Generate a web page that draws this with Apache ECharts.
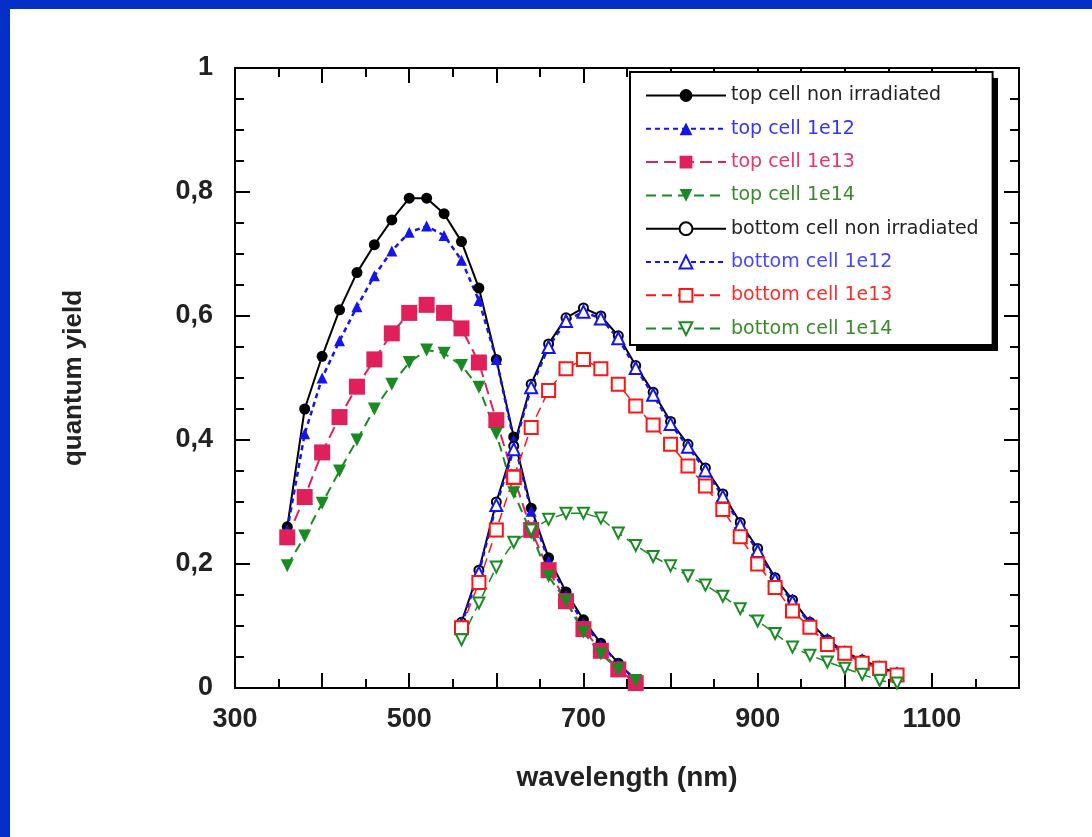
<!DOCTYPE html>
<html>
<head>
<meta charset="utf-8">
<script src="https://cdn.jsdelivr.net/npm/echarts@6/dist/echarts.min.js"></script>
<style>
html,body{margin:0;padding:0;background:#fff;}
#chart{width:1092px;height:837px;}
</style>
</head>
<body>
<div id="chart"></div>
<script>
// ---- data ----
const wlTop = [360,380,400,420,440,460,480,500,520,540,560,580,600,620,640,660,680,700,720,740,760];
const topNonIrr = [0.26,0.45,0.535,0.61,0.67,0.715,0.755,0.79,0.79,0.765,0.72,0.645,0.53,0.405,0.29,0.21,0.155,0.11,0.072,0.04,0.013];
const top1e12   = [0.255,0.41,0.50,0.56,0.615,0.665,0.705,0.735,0.745,0.73,0.69,0.625,0.53,0.40,0.285,0.205,0.15,0.105,0.07,0.04,0.012];
const top1e13   = [0.243,0.308,0.38,0.437,0.486,0.53,0.572,0.605,0.618,0.605,0.58,0.525,0.432,0.34,0.255,0.19,0.14,0.095,0.06,0.03,0.008];
const top1e14   = [0.197,0.245,0.298,0.35,0.40,0.45,0.49,0.525,0.545,0.54,0.52,0.485,0.41,0.315,0.25,0.18,0.14,0.09,0.055,0.03,0.012];

const wlBottom = [560,580,600,620,640,660,680,700,720,740,760,780,800,820,840,860,880,900,920,940,960,980,1000,1020,1040,1060];
const botNonIrr = [0.106,0.19,0.30,0.39,0.49,0.555,0.597,0.613,0.60,0.568,0.52,0.477,0.43,0.393,0.355,0.313,0.267,0.225,0.178,0.142,0.106,0.078,0.058,0.045,0.034,0.024];
const bot1e12   = [0.102,0.186,0.295,0.385,0.485,0.55,0.592,0.607,0.596,0.564,0.516,0.473,0.426,0.389,0.351,0.309,0.263,0.221,0.175,0.139,0.104,0.076,0.056,0.043,0.032,0.022];
const bot1e13   = [0.097,0.17,0.255,0.34,0.42,0.48,0.515,0.53,0.515,0.49,0.455,0.424,0.393,0.358,0.326,0.288,0.244,0.2,0.162,0.124,0.098,0.07,0.056,0.04,0.032,0.021];
const bot1e14   = [0.078,0.137,0.195,0.235,0.255,0.272,0.282,0.282,0.274,0.25,0.23,0.212,0.197,0.181,0.166,0.148,0.128,0.108,0.088,0.066,0.053,0.042,0.032,0.022,0.012,0.008];

const seriesNames = ['top cell non irradiated','top cell 1e12','top cell 1e13','top cell 1e14',
                     'bottom cell non irradiated','bottom cell 1e12','bottom cell 1e13','bottom cell 1e14'];
const yLabels = {0:'0',0.2:'0,2',0.4:'0,4',0.6:'0,6',0.8:'0,8',1:'1'};
const xLabelValues = [300,500,700,900,1100];

// ---- styles ----
const BLACK='#000000', BLUE='#1414f0', PINK='#e0205a', GREEN='#1a8a22', RED='#ff1414';
const legendTextColors = ['#222222','#3434ff','#e8356a','#3a8a2a','#222222','#4646ff','#ff2a2a','#3a8a2a'];

function pairs(xs, ys){ return xs.map((x,i)=>[x, ys[i]]); }

const specs = [
  {x:wlTop, y:topNonIrr, color:BLACK, symbol:'circle', size:11, rot:0, dash:'solid', w:2},
  {x:wlTop, y:top1e12, color:BLUE, symbol:'triangle', size:11, rot:0, dash:[5,4], w:2.5},
  {x:wlTop, y:top1e13, color:PINK, symbol:'rect', size:16, rot:0, dash:[12,6], w:2},
  {x:wlTop, y:top1e14, color:GREEN, symbol:'triangle', size:13, rot:180, dash:[10,6], w:2},
  {x:wlBottom, y:botNonIrr, color:BLACK, symbol:'emptyCircle', size:9, rot:0, dash:'solid', w:2},
  {x:wlBottom, y:bot1e12, color:BLUE, symbol:'emptyTriangle', size:12, rot:0, dash:[5,4], w:2.5},
  {x:wlBottom, y:bot1e13, color:RED, symbol:'emptyRect', size:13, rot:0, dash:[10,6], w:1.5},
  {x:wlBottom, y:bot1e14, color:GREEN, symbol:'emptyTriangle', size:11, rot:180, dash:[10,6], w:1.5}
];

const series = specs.map((s,i)=>({
  name: seriesNames[i],
  type:'line',
  xAxisIndex:0, yAxisIndex:0,
  data: pairs(s.x, s.y),
  symbol: s.symbol,
  symbolSize: s.size,
  symbolRotate: s.rot,
  showAllSymbol:true,
  animation:false,
  lineStyle:{color:s.color, width:s.w, type:s.dash},
  itemStyle:{color:s.color, borderColor:s.color, borderWidth: s.symbol.indexOf('empty')===0 ? 2.2 : 0},
  z: 2
}));

const tickFont = {fontFamily:'Liberation Sans, Arial, sans-serif', fontSize:27, fontWeight:'bold', color:'#222'};

function axisX(extra){
  return Object.assign({
    type:'value', min:300, max:1200, interval:100,
    axisLine:{show:true, onZero:false, lineStyle:{color:'#000', width:2}},
    axisTick:{show:true, inside:true, length:15, lineStyle:{color:'#000', width:2}},
    minorTick:{show:true, splitNumber:2, length:9, lineStyle:{color:'#000', width:2}},
    splitLine:{show:false}, minorSplitLine:{show:false}
  }, extra);
}
function axisY(extra){
  return Object.assign({
    type:'value', min:0, max:1, interval:0.2,
    axisLine:{show:true, onZero:false, lineStyle:{color:'#000', width:2}},
    axisTick:{show:true, inside:true, length:15, lineStyle:{color:'#000', width:2}},
    minorTick:{show:true, splitNumber:4, length:9, lineStyle:{color:'#000', width:2}},
    splitLine:{show:false}, minorSplitLine:{show:false}
  }, extra);
}

const option = {
  backgroundColor:'#ffffff',
  animation:false,
  grid:{left:235, right:73, top:68, bottom:149, containLabel:false},
  graphic:[
    {type:'rect', left:0, top:0, shape:{width:1092, height:9}, style:{fill:'#0530c8'}, silent:true, z:100},
    {type:'rect', left:0, top:0, shape:{width:10, height:837}, style:{fill:'#0530c8'}, silent:true, z:100},
    // drop shadow behind the legend box
    {type:'rect', left:636, top:78, shape:{width:362, height:273}, style:{fill:'#000'}, silent:true, z:9}
  ],
  xAxis:[
    axisX({
      position:'bottom',
      name:'wavelength (nm)', nameLocation:'middle', nameGap:76,
      nameTextStyle:{fontFamily:'Liberation Sans, Arial, sans-serif', fontSize:28, fontWeight:'bold', color:'#222'},
      axisLabel:Object.assign({show:true, margin:18, formatter:(v)=> xLabelValues.indexOf(v)>=0 ? String(v) : ''}, tickFont)
    }),
    axisX({position:'top', axisLabel:{show:false}})
  ],
  yAxis:[
    axisY({
      position:'left',
      name:'quantum yield', nameLocation:'middle', nameGap:148,
      nameTextStyle:{fontFamily:'Liberation Sans, Arial, sans-serif', fontSize:26, fontWeight:'bold', color:'#222'},
      axisLabel:Object.assign({show:true, margin:22, formatter:(v)=> {
        const k = Math.round(v*10)/10; return yLabels[k] !== undefined ? yLabels[k] : '';
      }}, tickFont)
    }),
    axisY({position:'right', axisLabel:{show:false}})
  ],
  legend:{
    show:true,
    z:10,
    orient:'vertical',
    left:630, top:72,
    padding:[14,14,7,15],
    itemWidth:80, itemHeight:16, itemGap:14.3,
    backgroundColor:'#ffffff',
    borderColor:'#000', borderWidth:2, borderRadius:0,
    textStyle:{fontFamily:'DejaVu Sans, sans-serif', fontSize:19, lineHeight:18},
    data: seriesNames.map((n,i)=>({name:n, textStyle:{color:legendTextColors[i]}})),
    selectedMode:false
  },
  series: series
};

const chart = echarts.init(document.getElementById('chart'), null, {renderer:'canvas'});
chart.setOption(option);
</script>
</body>
</html>
